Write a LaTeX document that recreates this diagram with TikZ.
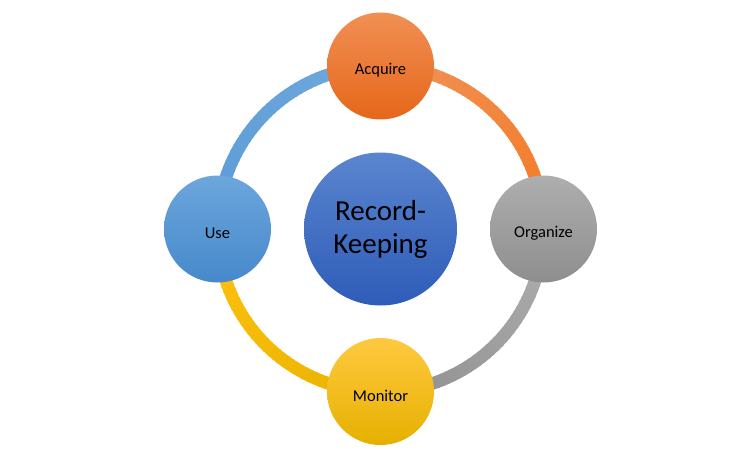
\documentclass[tikz,border=0pt]{standalone}
\usepackage{fontspec}
\setmainfont{Carlito}
\definecolor{orgL}{HTML}{F0935C}
\definecolor{orgD}{HTML}{F47A22}
\definecolor{gryL}{HTML}{B0B0B0}
\definecolor{gryD}{HTML}{8E8E8E}
\definecolor{yelL}{HTML}{FFC20E}
\definecolor{yelD}{HTML}{E8B200}
\definecolor{bluL}{HTML}{5B9BD6}
\definecolor{bluD}{HTML}{6FA9DD}
\newcommand\lowlbl[1]{\raisebox{-4pt}[\height][\depth]{#1}}
\begin{document}
\begin{tikzpicture}[x=1pt,y=1pt,
  satnode/.style={circle, minimum size=107pt, inner sep=0pt, font=\fontsize{16.5}{19}\selectfont, text=black},
  hubnode/.style={circle, minimum size=153pt, inner sep=0pt, align=center, font=\fontsize{29}{33}\selectfont, text=black},
  ringseg/.style={line width=12.5pt}]
\useasboundingbox (0,0) rectangle (730,472);
\coordinate (O) at (380.5,243);
% ring arcs
\foreach \a in {0,2,...,88}{
  \pgfmathtruncatemacro\t{(\a+1)/90*100}
  \draw[ringseg, color=orgL!\t!orgD] ([shift={(\a:163)}]O) arc (\a:\a+2.6:163);
}
\foreach \a in {270,272,...,358}{
  \pgfmathtruncatemacro\t{(\a-269)/90*100}
  \draw[ringseg, color=gryL!\t!gryD] ([shift={(\a:163)}]O) arc (\a:\a+2.6:163);
}
\foreach \a in {180,182,...,268}{
  \pgfmathtruncatemacro\t{(\a-179)/90*100}
  \draw[ringseg, color=yelD!\t!yelL] ([shift={(\a:163)}]O) arc (\a:\a+2.6:163);
}
\foreach \a in {90,92,...,178}{
  \pgfmathtruncatemacro\t{(\a-89)/90*100}
  \draw[ringseg, color=bluL!\t!bluD] ([shift={(\a:163)}]O) arc (\a:\a+2.6:163);
}
% circles
\node[hubnode, top color={rgb,255:red,90;green,133;blue,207}, bottom color={rgb,255:red,46;green,92;blue,184}] (hub) at (O) {Record-\\Keeping};
\node[satnode, top color={rgb,255:red,241;green,143;blue,84}, bottom color={rgb,255:red,229;green,103;blue,26}] (acq) at (380.5,406) {\lowlbl{Acquire}};
\node[satnode, top color={rgb,255:red,174;green,174;blue,174}, bottom color={rgb,255:red,142;green,142;blue,142}] (org) at (543.5,243) {\lowlbl{Organize}};
\node[satnode, top color={rgb,255:red,255;green,201;blue,64}, bottom color={rgb,255:red,230;green,176;blue,0}] (mon) at (380.5,80.5) {\lowlbl{Monitor}};
\node[satnode, top color={rgb,255:red,108;green,166;blue,220}, bottom color={rgb,255:red,70;green,137;blue,203}] (use) at (217.5,243) {\lowlbl{Use}};
\end{tikzpicture}
\end{document}
